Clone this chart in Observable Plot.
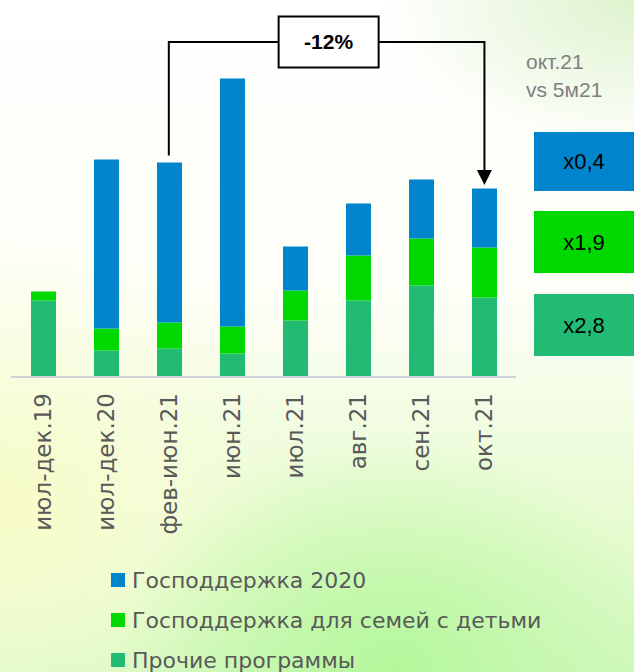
<!DOCTYPE html>
<html>
<head>
<meta charset="utf-8">
<script src="https://cdn.jsdelivr.net/npm/d3@7"></script>
<script src="https://cdn.jsdelivr.net/npm/@observablehq/plot@0.6"></script>
<style>
  html, body { margin: 0; padding: 0; }
  body {
    width: 634px; height: 672px; overflow: hidden; position: relative;
    background:
      radial-gradient(ellipse 45% 35% at 62% 100%, rgba(180,247,155,1) 0%, rgba(190,248,165,0.6) 50%, rgba(255,255,255,0) 100%),
      radial-gradient(ellipse 50% 40% at 0% 75%, rgba(248,252,200,1) 0%, rgba(250,253,215,0.6) 50%, rgba(255,255,255,0) 100%),
      radial-gradient(ellipse 40% 22% at 100% 0%, rgba(222,243,205,1) 0%, rgba(255,255,255,0) 100%),
      linear-gradient(to bottom, #ffffff 0%, #fdfef6 45%, #e6fbcf 80%, #d2f8bf 100%);
  }
  #chart { position: absolute; left: 0; top: 0; }
  #legend { position: absolute; left: 111px; top: 560px; font-family: "DejaVu Sans"; font-size: 22px; color: #595959; }
  .row { height: 40px; display: flex; align-items: center; }
  .sw { width: 14px; height: 14px; margin-right: 7px; }
</style>
</head>
<body>
<div id="chart"></div>
<div id="legend"></div>
<script>
const categories = ["июл-дек.19", "июл-дек.20", "фев-июн.21", "июн.21", "июл.21", "авг.21", "сен.21", "окт.21"];
const otherPrograms = [76, 26, 28, 23, 56, 76, 91, 79];
const familySupport = [9, 22, 26, 27, 30, 45, 47, 50];
const gov2020 = [0, 169, 160, 248, 44, 52, 59, 59];
const seriesNames = ["Прочие программы", "Господдержка для семей с детьми", "Господдержка 2020"];
const seriesColors = ["#22BB73", "#00D800", "#0085CC"];
const legendOrder = ["Господдержка 2020", "Господдержка для семей с детьми", "Прочие программы"];
const changeLabel = "-12%";
const compareLines = ["окт.21", "vs 5м21"];
const multipliers = ["x0,4", "x1,9", "x2,8"]; // blue, green, teal
const multiplierColors = ["#0085CC", "#00D800", "#22BB73"];

const seriesArrays = [otherPrograms, familySupport, gov2020];
const data = categories.flatMap((c, i) => seriesNames.map((s, k) => ({cat: c, series: s, value: seriesArrays[k][i]})));

const W = 634, H = 555, mL = 11, mR = 118, mT = 76.5, mB = 178.5;
const pIn = 0.604, pOut = 0.302;

const chart = Plot.plot({
  width: W, height: H,
  marginLeft: mL, marginRight: mR, marginTop: mT, marginBottom: mB,
  x: {domain: categories, paddingInner: pIn, paddingOuter: pOut, axis: null},
  y: {domain: [0, 300], axis: null},
  color: {domain: seriesNames, range: seriesColors},
  style: {background: "transparent", fontFamily: "DejaVu Sans", overflow: "visible"},
  marks: [
    Plot.barY(data, {x: "cat", y: "value", fill: "series"}),
    Plot.ruleY([0], {stroke: "#d0d0d8", strokeWidth: 2}),
    Plot.axisX({tickRotate: -90, tickSize: 0, tickPadding: 16, fontSize: 23, fill: "#595959", label: null})
  ]
});
document.getElementById("chart").appendChild(chart);

// Annotation scales mirror the plot's scales
const xs = d3.scaleBand().domain(categories).range([mL, W - mR]).paddingInner(pIn).paddingOuter(pOut);
const ys = d3.scaleLinear().domain([0, 300]).range([H - mB, mT]);
const cx = c => xs(c) + xs.bandwidth() / 2;
const totals = categories.map((c, i) => otherPrograms[i] + familySupport[i] + gov2020[i]);

const svg = d3.select(chart);
const g = svg.append("g");
const levelY = ys(334.5);
const xFrom = cx(categories[2]), xTo = cx(categories[7]);
const boxCx = (cx(categories[4]) + cx(categories[5])) / 2 + 2;
const boxW = 100, boxH = 51;
g.append("path")
  .attr("d", `M${xFrom},${ys(totals[2]) - 7}V${levelY}H${boxCx - boxW/2}M${boxCx + boxW/2},${levelY}H${xTo}V${ys(totals[7]) - 17}`)
  .attr("fill", "none").attr("stroke", "#000").attr("stroke-width", 2);
const tipY = ys(totals[7]) - 3.5;
g.append("path")
  .attr("d", `M${xTo - 7.5},${tipY - 15}L${xTo + 7.5},${tipY - 15}L${xTo},${tipY}Z`)
  .attr("fill", "#000");
g.append("rect").attr("x", boxCx - boxW/2).attr("y", levelY - boxH/2).attr("width", boxW).attr("height", boxH)
  .attr("fill", "#fff").attr("stroke", "#000").attr("stroke-width", 2);
g.append("text").attr("x", boxCx).attr("y", levelY).attr("dy", "0.35em").attr("text-anchor", "middle")
  .attr("font-family", "Liberation Sans, Arial").attr("font-weight", "bold").attr("font-size", 21).attr("fill", "#000")
  .text(changeLabel);

// Right-side comparison labels
compareLines.forEach((t, i) => {
  g.append("text").attr("x", 526).attr("y", 69 + i * 28).attr("text-anchor", "start").attr("font-family", "Liberation Sans, Arial")
    .attr("font-size", 21).attr("fill", "#808080").text(t);
});
const boxTops = [132, 211, 294], boxHs = [59, 62, 62];
multipliers.forEach((t, i) => {
  g.append("rect").attr("x", 534).attr("y", boxTops[i]).attr("width", 100).attr("height", boxHs[i]).attr("fill", multiplierColors[i]);
  g.append("text").attr("x", 584).attr("y", boxTops[i] + boxHs[i] / 2).attr("dy", "0.35em").attr("text-anchor", "middle")
    .attr("font-family", "Liberation Sans, Arial").attr("font-size", 22).attr("fill", "#000").text(t);
});

// Legend
const legend = d3.select("#legend");
legendOrder.forEach(name => {
  const row = legend.append("div").attr("class", "row");
  row.append("div").attr("class", "sw").style("background", seriesColors[seriesNames.indexOf(name)]);
  row.append("span").text(name);
});
</script>
</body>
</html>
